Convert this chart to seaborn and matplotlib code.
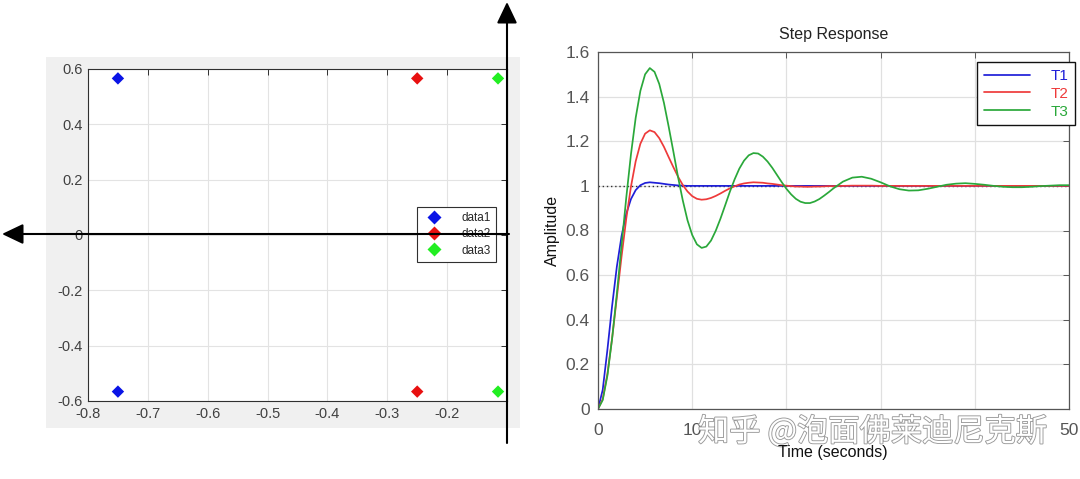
import numpy as np
import pandas as pd
import matplotlib
matplotlib.use("Agg")
import matplotlib.pyplot as plt
import seaborn as sns
from matplotlib import patheffects as pe
from matplotlib.patches import Rectangle

# ---------------- data: left panel (pole locations) ----------------
pole_labels = ["data1", "data2", "data3"]
pole_real = [-0.75, -0.25, -0.115]
pole_imag = [0.566, 0.566, 0.566]
pole_colors = ["#0a14e6", "#e81010", "#22ee22"]
left_xticks = [-0.8, -0.7, -0.6, -0.5, -0.4, -0.3, -0.2]
left_xticklabels = ["-0.8", "-0.7", "-0.6", "-0.5", "-0.4", "-0.3", "-0.2"]
left_yticks = [-0.6, -0.4, -0.2, 0, 0.2, 0.4, 0.6]
left_yticklabels = ["-0.6", "-0.4", "-0.2", "0", "0.2", "0.4", "0.6"]

# ---------------- data: right panel (step responses) ----------------
time_s = [0, 0.5, 1, 1.5, 2, 2.5, 3, 3.5, 4, 4.5, 5, 5.5, 6, 6.5, 7, 7.5, 8, 8.5, 9, 9.5,
          10, 10.5, 11, 11.5, 12, 12.5, 13, 13.5, 14, 14.5, 15, 15.5, 16, 16.5, 17, 17.5,
          18, 18.5, 19, 19.5, 20, 20.5, 21, 21.5, 22, 22.5, 23, 23.5, 24, 24.5, 25,
          26, 27, 28, 29, 30, 31, 32, 33, 34, 35, 36, 37, 38, 39, 40, 41, 42, 43, 44, 45,
          46, 47, 48, 49, 50]
amp_t1 = [0.000, 0.086, 0.266, 0.463, 0.638, 0.775, 0.875, 0.941, 0.981, 1.003, 1.013, 1.016,
          1.014, 1.012, 1.009, 1.006, 1.004, 1.002, 1.001, 1.000,
          1.000, 1.000, 1.000, 1.000, 1.000, 1.000, 1.000, 1.000, 1.000, 1.000, 1.000, 1.000,
          1.000, 1.000, 1.000, 1.000, 1.000, 1.000, 1.000, 1.000, 1.000, 1.000, 1.000, 1.000,
          1.000, 1.000, 1.000, 1.000, 1.000, 1.000, 1.000,
          1.000, 1.000, 1.000, 1.000, 1.000, 1.000, 1.000, 1.000, 1.000, 1.000, 1.000, 1.000,
          1.000, 1.000, 1.000, 1.000, 1.000, 1.000, 1.000, 1.000, 1.000, 1.000, 1.000, 1.000, 1.000]
amp_t2 = [0.000, 0.044, 0.158, 0.318, 0.500, 0.683, 0.853, 0.997, 1.110, 1.189, 1.234, 1.249,
          1.241, 1.214, 1.175, 1.129, 1.084, 1.041, 1.004, 0.975,
          0.954, 0.942, 0.938, 0.940, 0.946, 0.955, 0.966, 0.978, 0.989, 0.998, 1.006, 1.011,
          1.014, 1.016, 1.015, 1.014, 1.011, 1.009, 1.006, 1.003, 1.001, 0.999, 0.997, 0.997,
          0.996, 0.996, 0.997, 0.997, 0.998, 0.999, 0.999,
          1.000, 1.001, 1.001, 1.001, 1.000, 1.000, 1.000, 1.000, 1.000, 1.000, 1.000, 1.000,
          1.000, 1.000, 1.000, 1.000, 1.000, 1.000, 1.000, 1.000, 1.000, 1.000, 1.000, 1.000, 1.000]
amp_t3 = [0.000, 0.040, 0.150, 0.316, 0.516, 0.733, 0.947, 1.142, 1.305, 1.426, 1.500, 1.528,
          1.511, 1.457, 1.372, 1.266, 1.154, 1.039, 0.935, 0.846,
          0.780, 0.738, 0.722, 0.728, 0.755, 0.799, 0.853, 0.913, 0.974, 1.029, 1.077, 1.113,
          1.137, 1.147, 1.145, 1.131, 1.109, 1.081, 1.049, 1.017, 0.987, 0.962, 0.942, 0.929,
          0.923, 0.923, 0.930, 0.941, 0.956, 0.972, 0.989,
          1.019, 1.037, 1.041, 1.032, 1.016, 0.998, 0.985, 0.979, 0.980, 0.987, 0.996, 1.005,
          1.010, 1.012, 1.009, 1.005, 1.000, 0.996, 0.994, 0.994, 0.996, 0.999, 1.001, 1.003, 1.003]
series_labels = ["T1", "T2", "T3"]
series_colors = ["#1f1fd8", "#ee3a3a", "#2aa83a"]
steady_state = 1.0
right_xticks = [0, 10, 20, 30, 40, 50]
right_xticklabels = ["0", "10", "20", "30", "40", "50"]
right_yticks = [0, 0.2, 0.4, 0.6, 0.8, 1.0, 1.2, 1.4, 1.6]
right_yticklabels = ["0", "0.2", "0.4", "0.6", "0.8", "1", "1.2", "1.4", "1.6"]
watermark = "知乎 @泡面佛莱迪尼克斯"

# ---------------- frames ----------------
poles_df = pd.DataFrame({
    "real": pole_real + pole_real,
    "imag": pole_imag + [-v for v in pole_imag],
    "label": pole_labels + pole_labels,
})
step_df = pd.DataFrame({
    "time": time_s * 3,
    "amplitude": amp_t1 + amp_t2 + amp_t3,
    "series": [series_labels[0]] * len(time_s) + [series_labels[1]] * len(time_s)
              + [series_labels[2]] * len(time_s),
})

sns.set_style("white")
plt.rcParams["font.family"] = ["Liberation Sans", "DejaVu Sans"]

W, H = 1080, 479
fig = plt.figure(figsize=(W / 100, H / 100), dpi=100)
fig.patch.set_facecolor("white")

# gray figure background of the left (MATLAB) panel
fig.patches.append(Rectangle((46 / W, 1 - 428 / H), 474 / W, 371 / H,
                             transform=fig.transFigure, facecolor="#f0f0f0",
                             edgecolor="none", zorder=-1))

axL = fig.add_axes([88 / W, 1 - 401 / H, 419 / W, 332 / H])
axR = fig.add_axes([598 / W, 1 - 409 / H, 471 / W, 357 / H])

# ---------------- left panel ----------------
sns.scatterplot(data=poles_df, x="real", y="imag", hue="label",
                palette=dict(zip(pole_labels, pole_colors)), marker="D", s=40,
                edgecolor="none", ax=axL, zorder=3)
axL.set_xlim(-0.8, -0.1)
axL.set_ylim(-0.6, 0.6)
axL.set_xticks(left_xticks)
axL.set_xticklabels(left_xticklabels)
axL.set_yticks(left_yticks)
axL.set_yticklabels(left_yticklabels)
axL.set_xlabel("")
axL.set_ylabel("")
axL.set_facecolor("white")
axL.grid(True, color="#e3e3e3", lw=0.8)
axL.tick_params(direction="in", top=True, right=True, length=4, width=0.7,
                color="#303030", labelsize=10.5, labelcolor="#404040", pad=4)
for s in axL.spines.values():
    s.set_color("#303030")
    s.set_linewidth(0.8)
hL, lL = axL.get_legend_handles_labels()
axL.legend(hL, lL, loc="upper left", bbox_to_anchor=(417 / W, 1 - 207 / H),
           bbox_transform=fig.transFigure, fontsize=8.5, frameon=True, fancybox=False,
           edgecolor="#303030", framealpha=1, borderpad=0.45, labelspacing=0.35,
           handlelength=2.0, handletextpad=1.3, borderaxespad=0, markerscale=1.1)
axL.get_legend().get_frame().set_linewidth(0.8)

# black arrows (real / imaginary axes)
axL.annotate("", xy=(2, H - 234), xytext=(509, H - 234), xycoords="figure pixels",
             textcoords="figure pixels", annotation_clip=False,
             arrowprops=dict(arrowstyle="-|>,head_length=13,head_width=6.2",
                             color="black", lw=1.5, shrinkA=0, shrinkB=0,
                             mutation_scale=1), zorder=10)
axL.annotate("", xy=(507, H - 2), xytext=(507, H - 443), xycoords="figure pixels",
             textcoords="figure pixels", annotation_clip=False,
             arrowprops=dict(arrowstyle="-|>,head_length=13,head_width=6.2",
                             color="black", lw=1.5, shrinkA=0, shrinkB=0,
                             mutation_scale=1), zorder=10)

# ---------------- right panel ----------------
axR.axhline(steady_state, color="#333333", ls=(0, (1, 2)), lw=1.0, zorder=1)
sns.lineplot(data=step_df, x="time", y="amplitude", hue="series",
             palette=dict(zip(series_labels, series_colors)), lw=1.25, ax=axR, zorder=2)
axR.set_xlim(0, 50)
axR.set_ylim(0, 1.6)
axR.set_xticks(right_xticks)
axR.set_xticklabels(right_xticklabels)
axR.set_yticks(right_yticks)
axR.set_yticklabels(right_yticklabels)
axR.grid(True, color="#e0e0e0", lw=0.9)
axR.tick_params(axis="both", direction="in", top=True, right=True, length=4, width=0.7,
                color="#555555", labelsize=12.5, labelcolor="#555555")
axR.tick_params(axis="x", pad=10)
axR.tick_params(axis="y", pad=6)
for s in axR.spines.values():
    s.set_color("#555555")
    s.set_linewidth(0.9)
axR.set_title("Step Response", fontsize=11.5, color="#222222", pad=9)
axR.set_ylabel("Amplitude", fontsize=11.5, color="#111111", labelpad=4)
axR.set_xlabel("")
hR, lR = axR.get_legend_handles_labels()
legR = axR.legend(hR, lR, loc="upper left", bbox_to_anchor=(977 / W, 1 - 62 / H),
                  bbox_transform=fig.transFigure, fontsize=11, frameon=True,
                  fancybox=False, edgecolor="#111111", framealpha=1, borderpad=0.45,
                  labelspacing=0.25, handlelength=3.0, handletextpad=1.35,
                  borderaxespad=0, labelcolor="linecolor")
legR.get_frame().set_linewidth(1.0)

# watermark (covers the middle tick labels as in the reference)
fig.text(698 / W, 1 - 432 / H, watermark, fontsize=22.5, color="white",
         family=["Noto Sans CJK SC", "DejaVu Sans"], ha="left", va="center",
         bbox=dict(facecolor="white", edgecolor="none", pad=-2),
         path_effects=[pe.withStroke(linewidth=1.3, foreground="#9a9a9a")], zorder=5)
fig.text(833 / W, 1 - 453 / H, "Time (seconds)", fontsize=11.5, color="#111111",
         ha="center", va="center", zorder=6)

fig.savefig("out.png", dpi=100, facecolor="white")
